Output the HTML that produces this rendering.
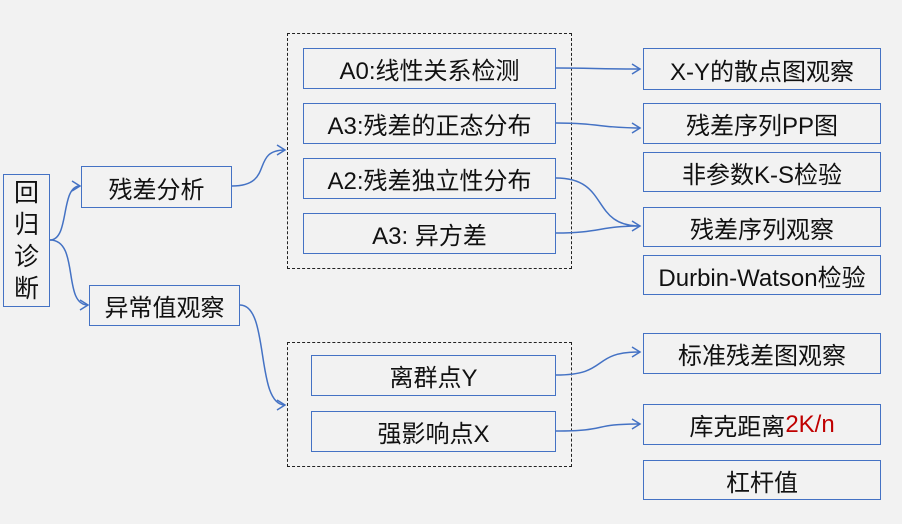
<!DOCTYPE html>
<html><head><meta charset="utf-8"><style>
body{margin:0;width:902px;height:524px;background:#f2f2f2;position:relative;overflow:hidden;font-family:"Liberation Sans","Noto Sans CJK SC",sans-serif;}
.b{position:absolute;border:1.5px solid #4472c4;box-sizing:border-box;display:flex;align-items:center;justify-content:center;font-size:24px;color:#111;white-space:nowrap;}
.d{position:absolute;border:1.2px dashed #222;box-sizing:border-box;}
svg{position:absolute;left:0;top:0;}
</style></head><body>
<div class="d" style="left:287px;top:33px;width:285px;height:236px"></div>
<div class="d" style="left:287px;top:342px;width:285px;height:125px"></div>
<div class="b" style="left:3px;top:174px;width:47px;height:133px;flex-direction:column;line-height:32px;font-size:25px">回<br>归<br>诊<br>断</div>
<div class="b" style="left:81px;top:166px;width:151px;height:42px">残差分析</div>
<div class="b" style="left:89px;top:285px;width:151px;height:41px">异常值观察</div>
<div class="b" style="left:303px;top:48px;width:253px;height:41px">A0:线性关系检测</div>
<div class="b" style="left:303px;top:103px;width:253px;height:41px">A3:残差的正态分布</div>
<div class="b" style="left:303px;top:158px;width:253px;height:41px">A2:残差独立性分布</div>
<div class="b" style="left:303px;top:213px;width:253px;height:41px">A3: 异方差</div>
<div class="b" style="left:311px;top:355px;width:245px;height:41px">离群点Y</div>
<div class="b" style="left:311px;top:411px;width:245px;height:41px">强影响点X</div>
<div class="b" style="left:643px;top:48px;width:238px;height:42px">X-Y的散点图观察</div>
<div class="b" style="left:643px;top:103px;width:238px;height:41px">残差序列PP图</div>
<div class="b" style="left:643px;top:152px;width:238px;height:40px">非参数K-S检验</div>
<div class="b" style="left:643px;top:207px;width:238px;height:40px">残差序列观察</div>
<div class="b" style="left:643px;top:255px;width:238px;height:40px">Durbin-Watson检验</div>
<div class="b" style="left:643px;top:333px;width:238px;height:41px">标准残差图观察</div>
<div class="b" style="left:643px;top:404px;width:238px;height:41px">库克距离<span style="color:#c00000">2K/n</span></div>
<div class="b" style="left:643px;top:460px;width:238px;height:40px">杠杆值</div>
<svg width="902" height="524" fill="none" stroke="#4472c4" stroke-width="1.5">
<path d="M50 240 C70 240,60 186,80 186"/><path d="M72 181 L80 186 L72 191"/>
<path d="M50 240 C80 240,62 305,88 305"/><path d="M80 300 L88 305 L80 310"/>
<path d="M232 186 C275 186,250 150,285 150"/><path d="M277 145 L285 150 L277 155"/>
<path d="M240 305 C270 305,255 405,285 405"/><path d="M277 400 L285 405 L277 410"/>
<path d="M556 68 C590 68,600 69,640 69"/><path d="M632 64 L640 69 L632 74"/>
<path d="M556 123 C600 123,600 128,640 128"/><path d="M632 123 L640 128 L632 133"/>
<path d="M556 178 C610 178,590 226,640 226"/><path d="M632 221 L640 226 L632 231"/>
<path d="M556 233 C600 233,600 226,640 226"/>
<path d="M556 375 C610 375,590 352,640 352"/><path d="M632 347 L640 352 L632 357"/>
<path d="M556 431 C610 431,590 424,640 424"/><path d="M632 419 L640 424 L632 429"/>
</svg>
</body></html>
